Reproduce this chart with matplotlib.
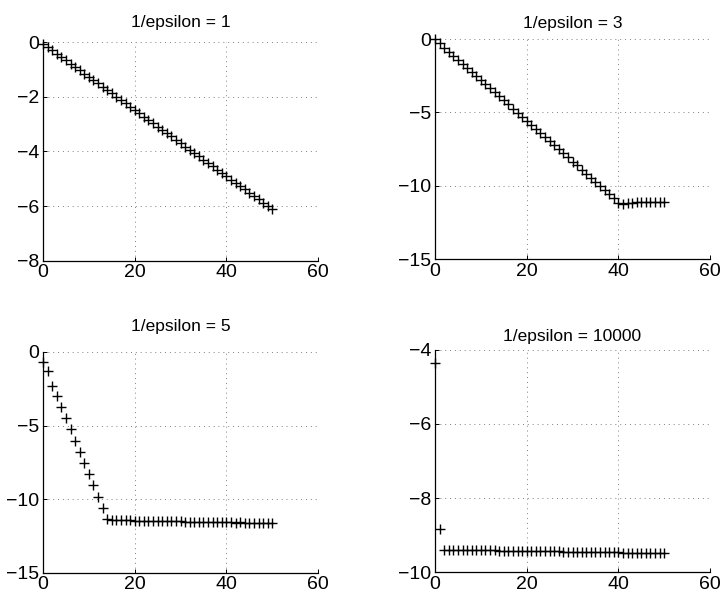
import numpy as np
from matplotlib import pyplot as plt

plt.rcParams['font.family'] = ['Liberation Sans', 'DejaVu Sans']

iteraciones = list(range(51))

# log del error para cada valor de 1/epsilon
err_eps_1 = [-0.06, -0.18, -0.30, -0.42, -0.55, -0.67, -0.79, -0.91, -1.03, -1.15,
             -1.27, -1.39, -1.51, -1.64, -1.76, -1.88, -2.00, -2.12, -2.24, -2.36,
             -2.48, -2.60, -2.73, -2.85, -2.97, -3.09, -3.21, -3.33, -3.45, -3.57,
             -3.69, -3.82, -3.94, -4.06, -4.18, -4.30, -4.42, -4.54, -4.66, -4.78,
             -4.91, -5.03, -5.15, -5.27, -5.39, -5.51, -5.63, -5.75, -5.88, -6.00,
             -6.12]
err_eps_3 = [-0.02, -0.30, -0.58, -0.85, -1.13, -1.41, -1.69, -1.96, -2.24, -2.52,
             -2.80, -3.07, -3.35, -3.63, -3.91, -4.18, -4.46, -4.74, -5.02, -5.29,
             -5.57, -5.85, -6.13, -6.40, -6.68, -6.96, -7.24, -7.51, -7.79, -8.07,
             -8.35, -8.62, -8.90, -9.18, -9.46, -9.73, -10.01, -10.29, -10.57, -10.84,
             -11.15, -11.22, -11.20, -11.16, -11.12, -11.10, -11.10, -11.10, -11.10, -11.10,
             -11.10]
err_eps_5 = [-0.68, -1.30, -2.30, -3.00, -3.77, -4.50, -5.25, -6.05, -6.80, -7.55,
             -8.28, -9.00, -9.82, -10.60, -11.35, -11.40, -11.42, -11.42, -11.43, -11.43,
             -11.45, -11.45, -11.46, -11.47, -11.47, -11.48, -11.48, -11.49, -11.50, -11.50,
             -11.50, -11.51, -11.52, -11.52, -11.53, -11.53, -11.54, -11.55, -11.55, -11.56,
             -11.56, -11.57, -11.58, -11.57, -11.58, -11.58, -11.59, -11.60, -11.60, -11.60,
             -11.61]
err_eps_10000 = [-4.36, -8.83, -9.39, -9.39, -9.39, -9.40, -9.40, -9.40, -9.40, -9.40,
                 -9.41, -9.41, -9.41, -9.41, -9.42, -9.42, -9.42, -9.42, -9.43, -9.43,
                 -9.43, -9.43, -9.43, -9.44, -9.44, -9.44, -9.44, -9.44, -9.45, -9.45,
                 -9.45, -9.45, -9.45, -9.45, -9.46, -9.46, -9.46, -9.46, -9.46, -9.46,
                 -9.46, -9.47, -9.47, -9.47, -9.47, -9.47, -9.47, -9.47, -9.47, -9.47,
                 -9.47]

titulos = ["1/epsilon = 1", "1/epsilon = 3", "1/epsilon = 5", "1/epsilon = 10000"]
y_ticks = [[0, -2, -4, -6, -8], [0, -5, -10, -15], [0, -5, -10, -15], [-4, -6, -8, -10]]
x_ticks = [0, 20, 40, 60]


def graficar(ax, vals_x, vals_y, titulo, yt, pad):
    ax.plot(vals_x, vals_y, '+', color='k', markersize=7, markeredgewidth=1.0, clip_on=False)
    ax.set_xlim(0, 60)
    ax.set_ylim(min(yt), max(yt))
    ax.set_xticks(x_ticks)
    ax.set_yticks(yt)
    ax.grid(True, linestyle=(0, (1, 4)), color='0.5', linewidth=0.7)
    ax.spines['top'].set_visible(False)
    ax.spines['right'].set_visible(False)
    ax.spines['left'].set_linewidth(0.9)
    ax.spines['bottom'].set_linewidth(0.9)
    ax.tick_params(direction='in', length=3, width=0.7, labelsize=14, pad=2.5)
    ax.set_title(titulo, fontsize=12.5, pad=pad)
    return


def main():
    fig = plt.figure(figsize=(7.22, 6.01), dpi=100)
    posiciones = [[0.0596, 0.566, 0.381, 0.364],
                  [0.6025, 0.569, 0.381, 0.366],
                  [0.0596, 0.0466, 0.381, 0.368],
                  [0.6025, 0.048, 0.381, 0.370]]
    pads = [11, 8, 15, 6.5]
    series = [err_eps_1, err_eps_3, err_eps_5, err_eps_10000]
    for pos, vals_y, titulo, yt, pad in zip(posiciones, series, titulos, y_ticks, pads):
        ax = fig.add_axes(pos)
        graficar(ax, iteraciones, vals_y, titulo, yt, pad)
    fig.savefig("out.png", dpi=100)
    return


if __name__ == "__main__":
    main()
